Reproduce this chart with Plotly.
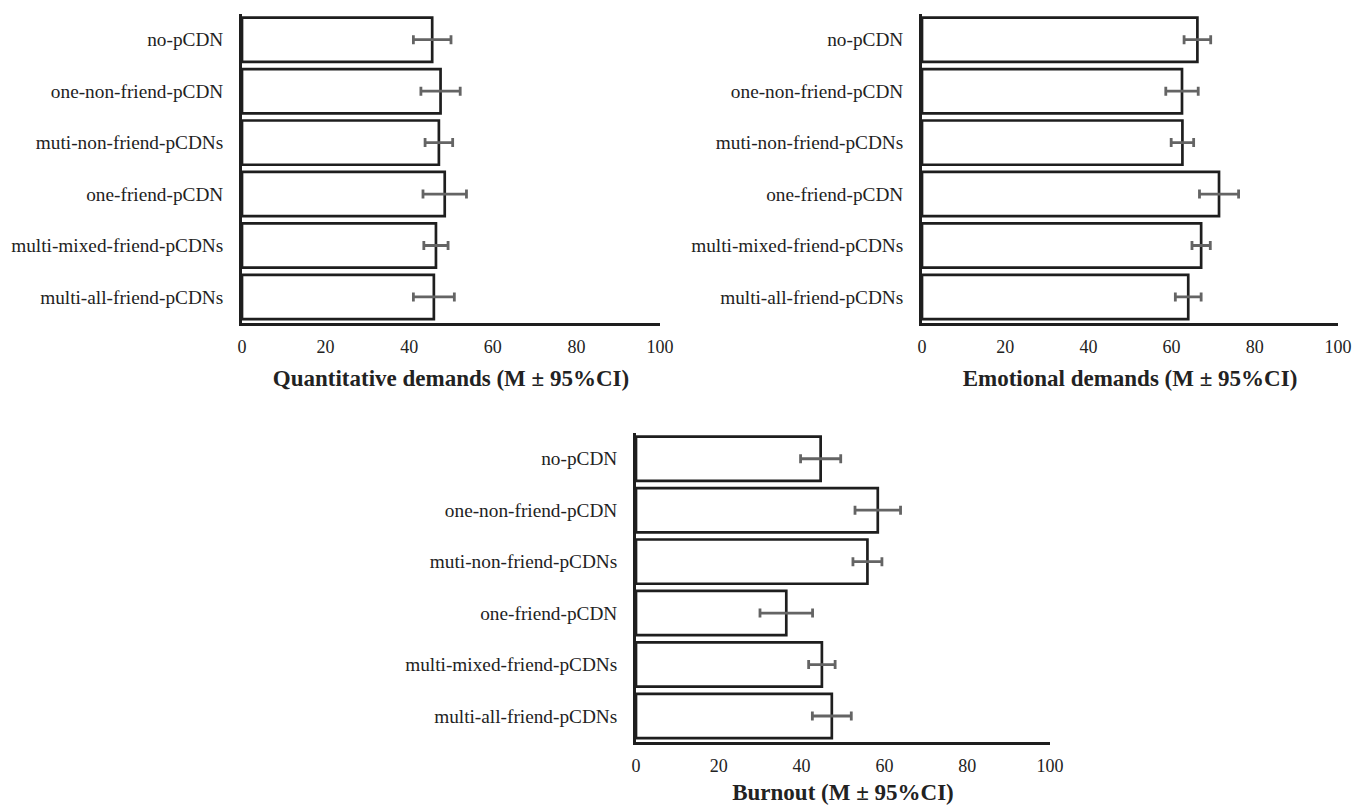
import plotly.graph_objects as go

categories = ["no-pCDN", "one-non-friend-pCDN", "muti-non-friend-pCDNs",
              "one-friend-pCDN", "multi-mixed-friend-pCDNs", "multi-all-friend-pCDNs"]

quant_mean = [45.5, 47.5, 47.1, 48.5, 46.4, 45.9]
quant_ci = [4.5, 4.7, 3.3, 5.2, 2.9, 4.9]

emo_mean = [66.2, 62.5, 62.6, 71.4, 67.1, 64.0]
emo_ci = [3.2, 3.9, 2.7, 4.7, 2.2, 3.1]

burn_mean = [44.6, 58.4, 55.9, 36.3, 44.9, 47.3]
burn_ci = [4.85, 5.5, 3.5, 6.35, 3.2, 4.7]

x_ticks = [0, 20, 40, 60, 80, 100]
titles = ["Quantitative demands (M \u00b1 95%CI)",
          "Emotional demands (M \u00b1 95%CI)",
          "Burnout (M \u00b1 95%CI)"]

W, H = 1354, 805
FONT = "Liberation Serif, Times New Roman, serif"

panels = [
    (quant_mean, quant_ci, (242, 660), (14, 322.7), 14),
    (emo_mean, emo_ci, (922, 1338), (14, 322.7), 14),
    (burn_mean, burn_ci, (636, 1050), (433, 741.7), 13),
]

fig = go.Figure()
for i, (mean, ci, (x0, x1), (y0, y1), tstand) in enumerate(panels):
    k = "" if i == 0 else str(i + 1)
    fig.add_trace(go.Bar(
        x=mean, y=categories, orientation="h",
        width=0.86,
        marker=dict(color="white", line=dict(color="#1e1e1e", width=2.7)),
        error_x=dict(type="data", array=ci, visible=True,
                     color="#646464", thickness=2.8, width=4.5),
        xaxis="x" + k, yaxis="y" + k, showlegend=False,
    ))
    fig.layout["xaxis" + k] = dict(
        domain=[x0 / W, x1 / W], anchor="y" + k, range=[0, 100],
        tickvals=x_ticks, ticks="", showgrid=False, zeroline=False,
        showline=True, linecolor="#1e1e1e", linewidth=2.7,
        tickfont=dict(family=FONT, size=18, color="#222"),
        ticklabelstandoff=6, automargin=False,
        title=dict(text="<b>" + titles[i] + "</b>",
                   font=dict(family=FONT, size=23, color="#222"), standoff=tstand),
        fixedrange=True,
    )
    fig.layout["yaxis" + k] = dict(
        domain=[1 - y1 / H, 1 - y0 / H], anchor="x" + k,
        categoryorder="array", categoryarray=categories,
        range=[5.5, -0.5], ticks="", showgrid=False, zeroline=False,
        showline=True, linecolor="#1e1e1e", linewidth=2.7,
        tickfont=dict(family=FONT, size=19.3, color="#222"),
        ticklabelstandoff=12, automargin=False,
        fixedrange=True,
    )

fig.update_layout(
    width=W, height=H, margin=dict(l=0, r=0, t=0, b=0),
    paper_bgcolor="white", plot_bgcolor="white",
    bargap=0.14, font=dict(family=FONT),
)
fig.write_html(
    "out.html",
    config={"displayModeBar": False},
    post_script="document.body.style.margin='0px';document.body.style.overflow='hidden';",
)
